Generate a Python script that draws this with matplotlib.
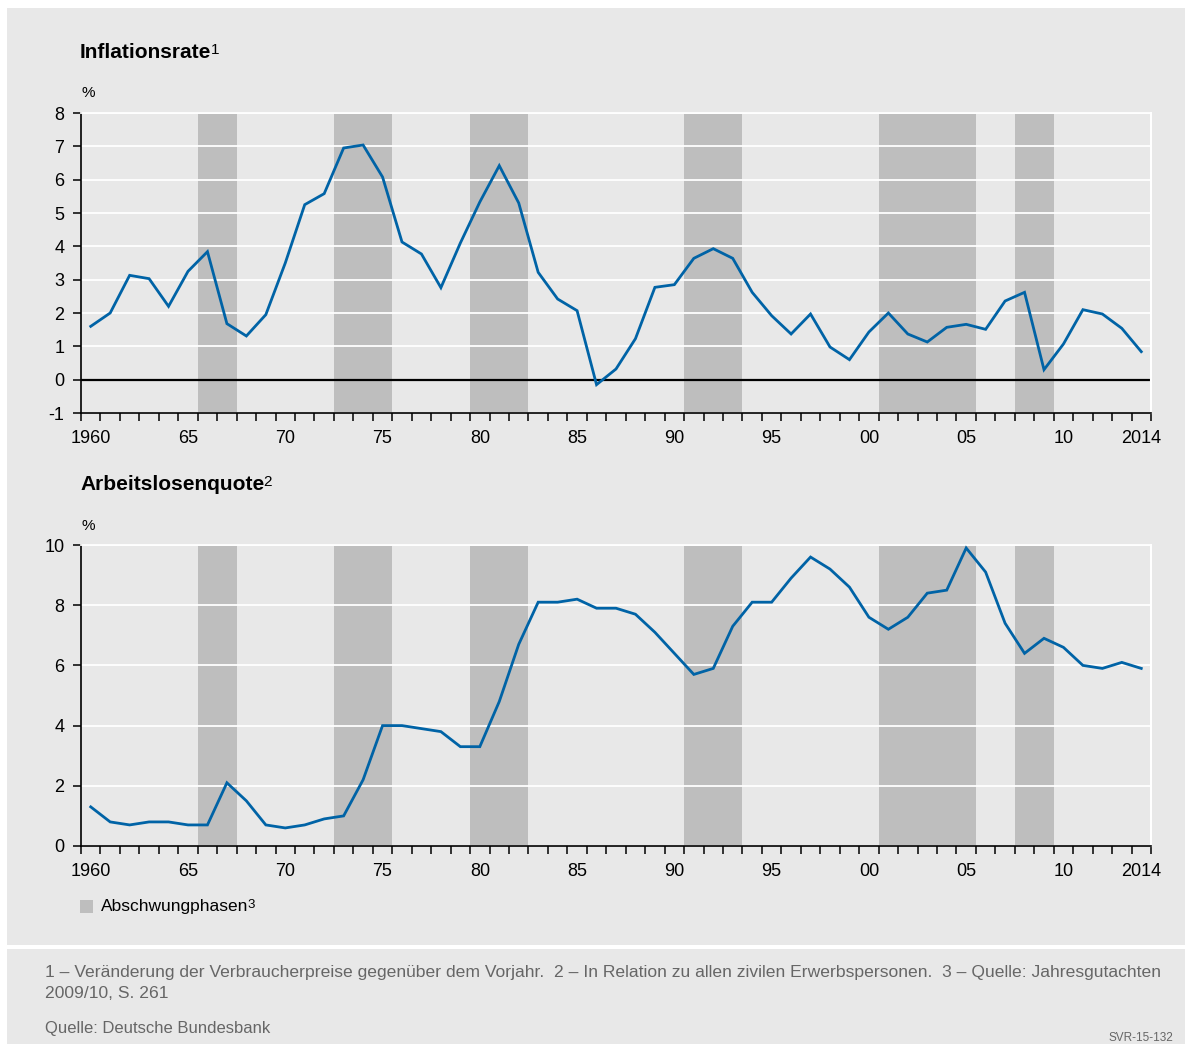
import matplotlib
matplotlib.use('Agg')
import matplotlib.pyplot as plt
from matplotlib.patches import Rectangle
import numpy as np

plt.rcParams['axes.unicode_minus'] = False

W, H = 1185, 1044

years = np.arange(1960, 2015)

# Inflationsrate in %
inflation = [1.6, 2.0, 3.13, 3.03, 2.2, 3.25, 3.84, 1.68, 1.31, 1.95,
             3.5, 5.25, 5.58, 6.95, 7.04, 6.08, 4.13, 3.77, 2.76, 4.1,
             5.33, 6.42, 5.3, 3.22, 2.42, 2.07, -0.15, 0.32, 1.23, 2.77,
             2.85, 3.64, 3.93, 3.64, 2.62, 1.92, 1.37, 1.97, 0.98, 0.6,
             1.43, 2.0, 1.37, 1.13, 1.57, 1.66, 1.51, 2.36, 2.62, 0.3,
             1.07, 2.1, 1.97, 1.54, 0.84]

# Arbeitslosenquote in %
unemployment = [1.3, 0.8, 0.7, 0.8, 0.8, 0.7, 0.7, 2.1, 1.5, 0.7,
                0.6, 0.7, 0.9, 1.0, 2.2, 4.0, 4.0, 3.9, 3.8, 3.3,
                3.3, 4.8, 6.7, 8.1, 8.1, 8.2, 7.9, 7.9, 7.7, 7.1,
                6.4, 5.7, 5.9, 7.3, 8.1, 8.1, 8.9, 9.6, 9.2, 8.6,
                7.6, 7.2, 7.6, 8.4, 8.5, 9.9, 9.1, 7.4, 6.4, 6.9,
                6.6, 6.0, 5.9, 6.1, 5.9]

# Abschwungphasen (first and last year, inclusive)
shade_start = [1966, 1973, 1980, 1991, 2001, 2008]
shade_end = [1967, 1975, 1982, 1993, 2005, 2009]

tick_years = [1960, 1965, 1970, 1975, 1980, 1985, 1990, 1995, 2000, 2005, 2010, 2014]
tick_labels = ['1960', '65', '70', '75', '80', '85', '90', '95', '00', '05', '10', '2014']

panel_gray = '#e8e8e8'
shade_gray = '#bebebe'
line_blue = '#0063a6'
font = ['Liberation Sans', 'DejaVu Sans']

fig = plt.figure(figsize=(W / 100, H / 100), dpi=100)
fig.patch.set_facecolor('white')

# grey panels (chart + footnotes)
fig.add_artist(Rectangle((7 / W, 1 - 945 / H), (W - 7) / W, (945 - 8) / H,
                         transform=fig.transFigure, color=panel_gray, lw=0, zorder=-2))
fig.add_artist(Rectangle((7 / W, 0), (W - 7) / W, (H - 949) / H,
                         transform=fig.transFigure, color=panel_gray, lw=0, zorder=-2))


def style_axis(ax, ymin, ymax, yticks):
    ax.set_facecolor(panel_gray)
    ax.set_xlim(1960, 2015)
    ax.set_ylim(ymin, ymax)
    for s, e in zip(shade_start, shade_end):
        ax.axvspan(s, e + 1, color=shade_gray, lw=0, zorder=0.2)
    ax.set_yticks(yticks)
    ax.yaxis.grid(True, color='white', lw=1.3)
    ax.set_axisbelow(True)
    ax.set_xticks(np.array(tick_years) + 0.5)
    ax.set_xticklabels(tick_labels)
    ax.set_xticks(np.arange(1960, 2016), minor=True)
    ax.tick_params(axis='x', which='major', length=0, pad=12.5, labelsize=13)
    ax.tick_params(axis='x', which='minor', length=5.8, width=1.1, direction='out')
    ax.tick_params(axis='y', length=5.5, width=1.1, pad=6.5, labelsize=13)
    for lab in ax.get_xticklabels() + ax.get_yticklabels():
        lab.set_family(font)
    ax.spines['left'].set_linewidth(1.2)
    ax.spines['bottom'].set_linewidth(1.2)
    ax.spines['top'].set_color('white')
    ax.spines['right'].set_color('white')
    ax.spines['top'].set_linewidth(1.3)
    ax.spines['right'].set_linewidth(1.5)


# upper chart: Inflationsrate
ax1 = fig.add_axes([81 / W, 1 - 413 / H, (1151 - 81) / W, 300 / H])
style_axis(ax1, -1, 8, range(-1, 9))
ax1.axhline(0, color='black', lw=1.6, zorder=1.8)
ax1.plot(years + 0.5, inflation, color=line_blue, lw=2.0, zorder=3, solid_joinstyle='miter')

# lower chart: Arbeitslosenquote
ax2 = fig.add_axes([81 / W, 1 - 846 / H, (1151 - 81) / W, 301 / H])
style_axis(ax2, 0, 10, range(0, 11, 2))
ax2.plot(years + 0.5, unemployment, color=line_blue, lw=2.0, zorder=3, solid_joinstyle='miter')


def title(x, y, text, sup):
    t = fig.text(x / W, 1 - y / H, text, family=font, fontsize=15, weight='bold',
                 va='baseline', ha='left')
    ax1.annotate(sup, xy=(0.995, 1.02), xycoords=t, family=font, fontsize=11,
                 va='top', ha='left', annotation_clip=False)


title(80, 58, 'Inflationsrate', '1')
fig.text(81 / W, 1 - 97 / H, '%', family=font, fontsize=11, va='baseline')
title(80, 490, 'Arbeitslosenquote', '2')
fig.text(81 / W, 1 - 530 / H, '%', family=font, fontsize=11, va='baseline')

# legend
fig.add_artist(Rectangle((80 / W, 1 - 912.5 / H), 13 / W, 12.5 / H,
                         transform=fig.transFigure, color=shade_gray, lw=0))
leg = fig.text(101 / W, 1 - 911 / H, 'Abschwungphasen', family=font, fontsize=12.5,
               va='baseline', ha='left')
ax1.annotate('3', xy=(0.995, 1.02), xycoords=leg, family=font, fontsize=9.5,
             va='top', ha='left', annotation_clip=False)

# footnotes
foot_color = '#666666'
fig.text(45 / W, 1 - 977 / H,
         '1 \u2013 Ver\u00e4nderung der Verbraucherpreise gegen\u00fcber dem Vorjahr.  '
         '2 \u2013 In Relation zu allen zivilen Erwerbspersonen.  3 \u2013 Quelle: Jahresgutachten',
         family=font, fontsize=12.6, color=foot_color, va='baseline')
fig.text(45 / W, 1 - 998 / H, '2009/10, S. 261', family=font, fontsize=12.6,
         color=foot_color, va='baseline')
fig.text(45 / W, 1 - 1033 / H, 'Quelle: Deutsche Bundesbank', family=font, fontsize=12,
         color=foot_color, va='baseline')
fig.text(1173 / W, 1 - 1041 / H, 'SVR-15-132', family=font, fontsize=8.5,
         color=foot_color, va='baseline', ha='right')

fig.savefig('out.png', dpi=100, facecolor='white')
